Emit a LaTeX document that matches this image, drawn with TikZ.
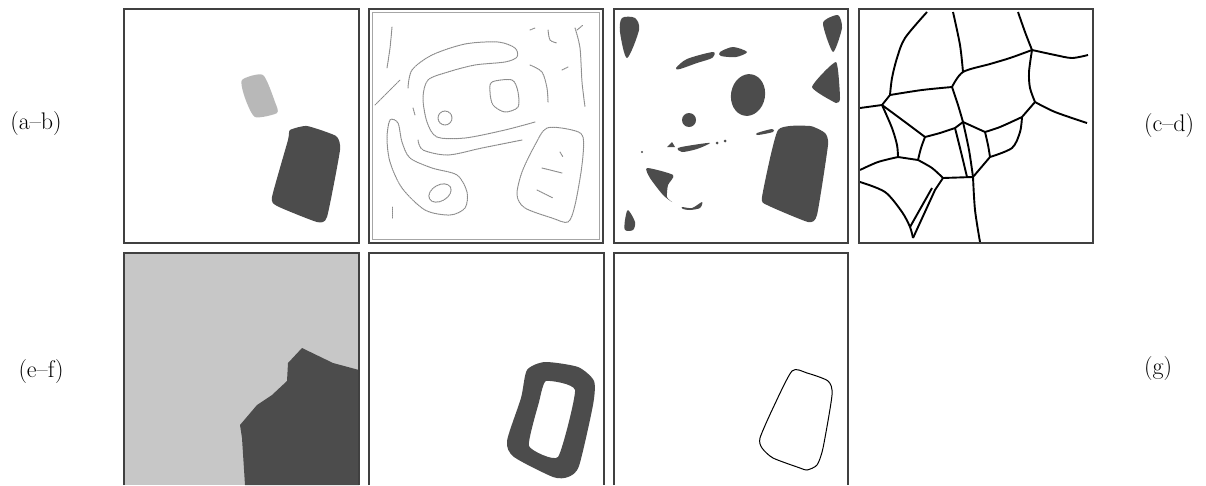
\documentclass[tikz,border=0pt]{standalone}
\usepackage{fontspec}
\begin{document}
\begin{tikzpicture}[x=1pt, y=-1pt,
    panel/.style={draw=black!75, line width=1.4pt},
    darkblob/.style={fill=black!70, draw=none},
    lightblob/.style={fill=black!28, draw=none},
    edgeline/.style={draw=black!45, line width=1pt, dash pattern=on 1.2pt off 0.8pt, line cap=round},
    cellline/.style={draw=black, line width=1.9pt, line join=round},
    rowlabel/.style={font=\fontsize{24}{28}\selectfont, inner sep=0pt}]
\useasboundingbox (0,0) rectangle (1206,485);

% row labels
\node[rowlabel] (ab) at (36,124) {(a--b)};
\node[rowlabel] (cd) at (1169,126) {(c--d)};
\node[rowlabel] (ef) at (41,372) {(e--f)};
\node[rowlabel] (g) at (1158,369) {(g)};

% (a) two regions
\draw[lightblob] plot[smooth cycle, tension=0.4] coordinates {(242,80) (263,75) (275,102) (277,113) (255,117) (245,98)};
\draw[darkblob] plot[smooth cycle, tension=0.3] coordinates {(290,130) (307,126) (336,136) (340,150) (327,217) (317,222) (277,206) (272,197) (288,140)};
\draw[panel] (124,9) rectangle (359,243);

% (b) edge map
\draw[edgeline] plot[smooth] coordinates {(392,27) (390,48) (387,68)};
\draw[edgeline] plot[smooth] coordinates {(375,105) (385,95) (400,80)};
\draw[edgeline] plot[smooth] coordinates {(408,88) (412,70) (432,55) (465,44) (498,42) (515,48) (517,57) (505,62) (475,65) (448,72) (428,80) (423,98) (427,122) (437,137) (465,138) (505,130) (535,122)};
\draw[edgeline] (413,108) -- (415,115);
\draw[edgeline] (445,118) circle (7);
\draw[edgeline] plot[smooth cycle] coordinates {(492,82) (512,80) (518,92) (518,107) (505,112) (493,105) (490,92)};
\draw[edgeline] plot[smooth] coordinates {(530,65) (542,72) (547,88) (548,102)};
\draw[edgeline] plot[smooth] coordinates {(548,30) (550,40) (557,43)};
\draw[edgeline] plot[smooth] coordinates {(575,28) (580,48) (582,82) (585,107)};
\draw[edgeline] (577,30) -- (583,25);
\draw[edgeline] (562,70) -- (568,67);
\draw[edgeline] (530,30) -- (535,28);
\draw[edgeline] plot[smooth] coordinates {(418,140) (423,150) (448,155) (482,148) (522,140)};
\draw[edgeline] plot[smooth cycle] coordinates {(390,120) (398,123) (402,142) (410,158) (432,168) (457,175) (467,192) (465,208) (450,215) (425,210) (402,188) (390,162) (387,138)};
\draw[edgeline, rotate around={30:(440,193)}] (440,193) ellipse (12 and 8);
\draw[edgeline] plot[smooth cycle] coordinates {(547,128) (572,130) (583,137) (582,165) (575,205) (568,222) (552,218) (525,208) (517,195) (522,172) (535,145)};
\draw[edgeline] (560,152) -- (563,157);
\draw[edgeline] (542,168) -- (562,173);
\draw[edgeline] (537,190) -- (553,198);
\draw[edgeline] (392,207) -- (392,218);
\draw[draw=black!35, line width=0.8pt] (372,12) rectangle (599,239);
\draw[panel, line width=2pt] (369,9) rectangle (603,243);

% (c) dark regions
\draw[darkblob] plot[smooth cycle, tension=0.5] coordinates {(622,18) (635,18) (639,30) (627,58) (620,32)};
\draw[darkblob] plot[smooth cycle, tension=0.4] coordinates {(823,23) (838,15) (842,28) (833,52)};
\draw[darkblob] plot[smooth cycle, tension=0.3] coordinates {(812,87) (836,62) (840,98) (836,103)};
\draw[darkblob] plot[smooth cycle, tension=0.5] coordinates {(676,68) (687,59) (713,52) (712,58) (697,63) (680,69)};
\draw[darkblob] plot[smooth cycle, tension=0.5] coordinates {(720,52) (733,47) (747,52) (736,57) (721,56)};
\draw[darkblob, rotate around={-10:(748,95)}] (748,95) ellipse (17 and 21);
\draw[darkblob] (689,120) circle (7);
\draw[darkblob] plot[smooth cycle, tension=0.3] coordinates {(778,130) (810,126) (825,133) (828,145) (817,215) (808,222) (767,205) (762,197)};
\draw[darkblob] plot[smooth cycle, tension=0.5] coordinates {(757,133) (772,129) (773,132) (758,135)};
\draw[darkblob] (667,147) -- (672,142) -- (675,147) -- cycle;
\draw[darkblob] plot[smooth cycle, tension=0.5] coordinates {(678,148) (693,145) (710,143) (697,149) (682,152)};
\draw[darkblob] (717,143) circle (1.5);
\draw[darkblob] (725,141) circle (1.5);
\draw[darkblob] (642,152) circle (1.2);
\draw[darkblob] plot[smooth cycle, tension=0.4] coordinates {(647,168) (673,175) (668,185) (667,197) (672,202) (663,195) (650,178)};
\draw[darkblob] plot[smooth cycle, tension=0.5] coordinates {(682,207) (692,208) (702,202) (700,208) (690,210) (683,209)};
\draw[darkblob] plot[smooth cycle, tension=0.5] coordinates {(628,210) (635,222) (633,230) (625,230) (625,220)};
\draw[panel] (614,9) rectangle (848,243);

% (d) cell boundaries
\draw[cellline] plot[smooth] coordinates {(927,12) (905,38) (897,58) (892,78) (890,95)};
\draw[cellline] (890,95) -- (882,105) -- (860,108);
\draw[cellline] plot[smooth] coordinates {(890,95) (922,90) (952,87)};
\draw[cellline] plot[smooth] coordinates {(952,87) (963,72) (990,64) (1010,58) (1032,50)};
\draw[cellline] plot[smooth] coordinates {(953,12) (960,45) (963,72)};
\draw[cellline] plot[smooth] coordinates {(1018,12) (1025,32) (1032,50)};
\draw[cellline] plot[smooth] coordinates {(1032,50) (1055,55) (1072,58) (1088,55)};
\draw[cellline] plot[smooth] coordinates {(1032,50) (1029,72) (1030,88) (1035,102)};
\draw[cellline] plot[smooth] coordinates {(1035,102) (1055,112) (1087,123)};
\draw[cellline] (1035,102) -- (1022,117);
\draw[cellline] plot[smooth] coordinates {(1022,117) (1000,127) (985,132)};
\draw[cellline] plot[smooth] coordinates {(1022,117) (1020,132) (1012,148) (990,157)};
\draw[cellline] plot[smooth] coordinates {(985,132) (988,145) (990,157)};
\draw[cellline] (990,157) -- (973,177);
\draw[cellline] plot[smooth] coordinates {(952,87) (958,105) (963,122)};
\draw[cellline] (963,122) -- (985,132);
\draw[cellline] (963,122) -- (955,128);
\draw[cellline] plot[smooth] coordinates {(955,128) (940,133) (925,137)};
\draw[cellline] plot[smooth] coordinates {(882,105) (905,122) (925,137)};
\draw[cellline] plot[smooth] coordinates {(925,137) (921,148) (918,160)};
\draw[cellline] plot[smooth] coordinates {(882,105) (892,128) (897,145) (898,157)};
\draw[cellline] (898,157) -- (918,160);
\draw[cellline] plot[smooth] coordinates {(898,157) (878,162) (860,170)};
\draw[cellline] plot[smooth] coordinates {(918,160) (932,168) (943,178)};
\draw[cellline] (943,178) -- (973,177);
\draw[cellline] plot[smooth] coordinates {(955,128) (961,152) (967,177)};
\draw[cellline] plot[smooth] coordinates {(963,122) (969,150) (973,177)};
\draw[cellline] plot[smooth] coordinates {(973,177) (975,210) (980,242)};
\draw[cellline] plot[smooth] coordinates {(860,182) (885,192) (902,212) (910,227) (913,238)};
\draw[cellline] (913,238) -- (935,190) -- (943,178);
\draw[cellline] (910,227) -- (932,188);
\draw[panel] (859,9) rectangle (1093,243);

% (e) two-class segmentation
\fill[black!22] (124,253) rectangle (359,485);
\draw[darkblob] (240,425) -- (257,405) -- (272,395) -- (287,381) -- (288,363) -- (302,348) -- (333,363) -- (359,370) -- (359,485) -- (245,485) -- (242,438) -- cycle;
\draw[panel] (124,485) -- (124,253) -- (359,253) -- (359,485);

% (f) band around the object
\draw[darkblob, even odd rule] plot[smooth cycle, tension=0.4] coordinates {(527,370) (545,362) (578,367) (594,381) (593,405) (579,466) (568,477) (553,477) (514,457) (507,441) (521,398)}
    plot[smooth cycle, tension=0.3] coordinates {(546,381) (575,390) (558,457) (529,446) (539,402)};
\draw[panel] (369,485) -- (369,253) -- (604,253) -- (604,485);

% (g) final contour
\draw[black, line width=1pt] plot[smooth cycle, tension=0.4] coordinates {(792,371) (807,373) (828,381) (832,395) (823,448) (817,465) (807,470) (800,468) (773,458) (762,448) (760,438) (773,408)};
\draw[panel] (614,485) -- (614,253) -- (848,253) -- (848,485);
\end{tikzpicture}
\end{document}
